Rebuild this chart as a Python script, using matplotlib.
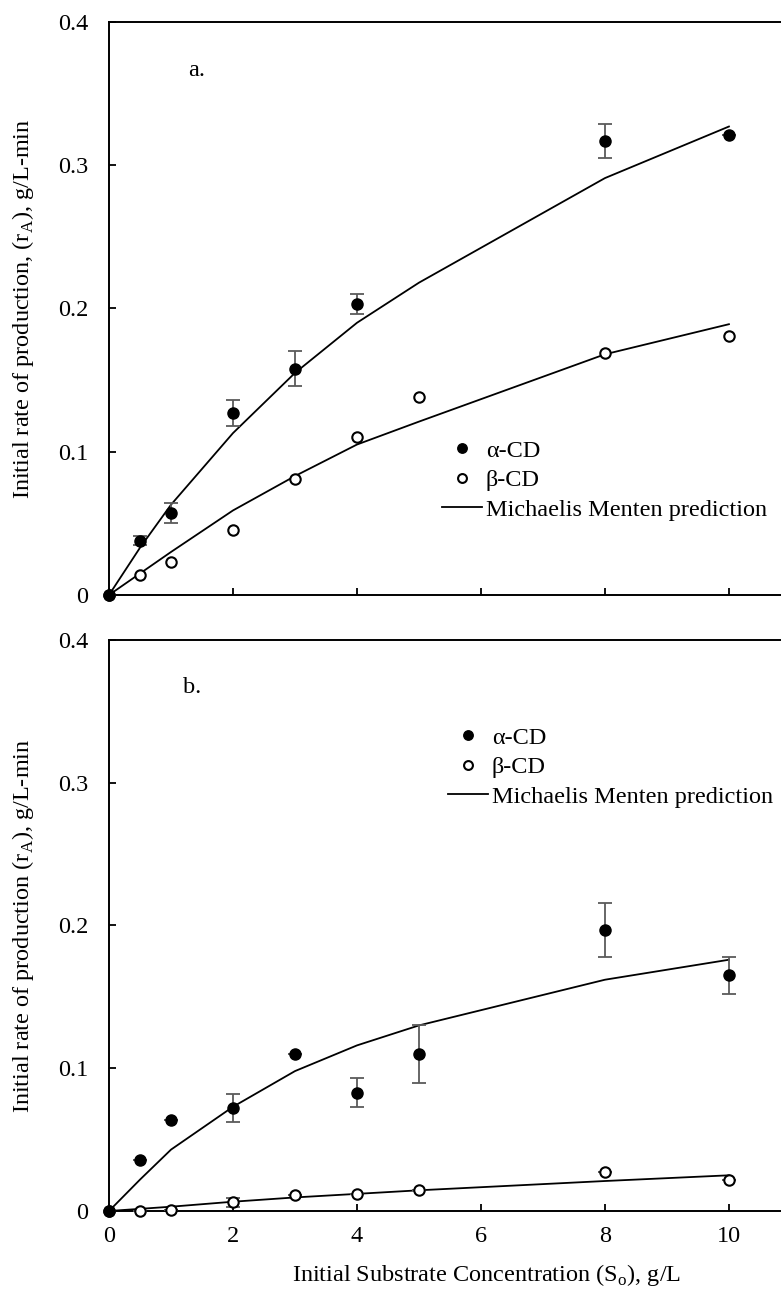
import matplotlib
matplotlib.use('Agg')
import matplotlib.pyplot as plt

plt.rcParams['font.family'] = ['Liberation Serif', 'DejaVu Serif']
plt.rcParams['mathtext.fontset'] = 'custom'
plt.rcParams['mathtext.rm'] = 'Liberation Serif'
plt.rcParams['font.size'] = 17.5

# panel a
x_a_top = [0, 0.5, 1, 2, 3, 4, 8, 10]
a_top = [0, 0.038, 0.057, 0.127, 0.158, 0.203, 0.317, 0.321]
a_top_err = [0, 0.003, 0.007, 0.009, 0.012, 0.007, 0.012, 0]
x_b_top = [0, 0.5, 1, 2, 3, 4, 5, 8, 10]
b_top = [0, 0.014, 0.023, 0.045, 0.081, 0.110, 0.138, 0.169, 0.181]
x_mm = [0, 0.5, 1, 2, 3, 4, 5, 8, 10]
mm_a_top = [0, 0.033, 0.063, 0.113, 0.155, 0.190, 0.218, 0.291, 0.327]
mm_b_top = [0, 0.015, 0.030, 0.059, 0.083, 0.105, 0.121, 0.168, 0.189]

# panel b
x_a_bot = [0, 0.5, 1, 2, 3, 4, 5, 8, 10]
a_bot = [0, 0.036, 0.064, 0.072, 0.110, 0.083, 0.110, 0.197, 0.165]
a_bot_err = [0, 0, 0, 0.010, 0, 0.010, 0.020, 0.019, 0.013]
x_b_bot = [0, 0.5, 1, 2, 3, 4, 5, 8, 10]
b_bot = [0, 0.000, 0.001, 0.006, 0.011, 0.012, 0.015, 0.027, 0.022]
b_bot_err = [0, 0, 0, 0.003, 0, 0, 0, 0, 0]
mm_a_bot = [0, 0.022, 0.043, 0.073, 0.098, 0.116, 0.130, 0.162, 0.176]
mm_b_bot = [0, 0.0015, 0.003, 0.0065, 0.0095, 0.012, 0.0145, 0.021, 0.025]

xticks = [0, 2, 4, 6, 8, 10]
yticks = [0, 0.1, 0.2, 0.3, 0.4]
ytick_labels = ['0', '0.1', '0.2', '0.3', '0.4']

fig = plt.figure(figsize=(7.81, 12.99), dpi=100)
ax1 = fig.add_axes([0.1396, 0.5420, 0.8604, 0.4411])
ax2 = fig.add_axes([0.1396, 0.06775, 0.8604, 0.4396])

ecol = '#5a5a5a'


def panel(ax, xa, ya, ea, xb, yb, eb, mma, mmb):
    ax.plot(x_mm, mma, color='black', lw=1.3, zorder=2)
    ax.plot(x_mm, mmb, color='black', lw=1.3, zorder=2,
            label='Michaelis Menten prediction')
    if eb is not None:
        ax.errorbar(xb, yb, yerr=eb, fmt='none', ecolor=ecol,
                    elinewidth=1.3, capsize=5, capthick=1.3, zorder=3)
    ax.errorbar(xa, ya, yerr=ea, fmt='none', ecolor=ecol,
                elinewidth=1.3, capsize=5, capthick=1.3, zorder=3)
    ax.plot(xb, yb, 'o', mfc='white', mec='black', mew=1.5, ms=7.5,
            ls='none', zorder=4, label='β-CD', clip_on=False)
    ax.plot(xa, ya, 'o', color='black', ms=8, ls='none', zorder=5,
            label='α-CD', clip_on=False)
    ax.set_xlim(0, 10.84)
    ax.set_ylim(0, 0.4)
    ax.set_xticks(xticks)
    ax.set_yticks(yticks)
    ax.set_yticklabels(ytick_labels)
    ax.spines['right'].set_visible(False)
    for s in ['left', 'top', 'bottom']:
        ax.spines[s].set_linewidth(1.4)
    ax.tick_params(direction='in', length=5, width=1.3)
    ax.tick_params(axis='y', pad=15)
    ax.tick_params(axis='x', pad=11)
    ax.set_facecolor('white')


panel(ax1, x_a_top, a_top, a_top_err, x_b_top, b_top, None, mm_a_top, mm_b_top)
panel(ax2, x_a_bot, a_bot, a_bot_err, x_b_bot, b_bot, b_bot_err, mm_a_bot, mm_b_bot)

ax1.set_xticklabels([])
ax2.set_xticklabels([str(t) for t in xticks])

ax1.set_ylabel(r'Initial rate of production, (r$_\mathregular{A}$), g/L-min')
ax2.set_ylabel(r'Initial rate of production (r$_\mathregular{A}$), g/L-min')
ax1.yaxis.set_label_coords(-0.108, 0.5)
ax2.yaxis.set_label_coords(-0.108, 0.5)
ax2.set_xlabel(r'Initial Substrate Concentration (S$_\mathregular{o}$), g/L')
ax2.xaxis.set_label_coords(0.5625, -0.09)

ax1.text(0.1176, 0.916, 'a.', transform=ax1.transAxes, ha='left', va='center')
ax2.text(0.110, 0.916, 'b.', transform=ax2.transAxes, ha='left', va='center')

for ax, anchor in [(ax1, (0.4955, 0.2705)), (ax2, (0.5045, 0.8476))]:
    h, l = ax.get_legend_handles_labels()
    order = [l.index('α-CD'), l.index('β-CD'), l.index('Michaelis Menten prediction')]
    ax.legend([h[i] for i in order], [l[i] for i in order], loc='upper left',
              bbox_to_anchor=anchor, frameon=False, handlelength=1.65,
              handletextpad=0.15, labelspacing=0.3, borderpad=0,
              borderaxespad=0, markerscale=0.85)

fig.savefig('out.png', dpi=100)
